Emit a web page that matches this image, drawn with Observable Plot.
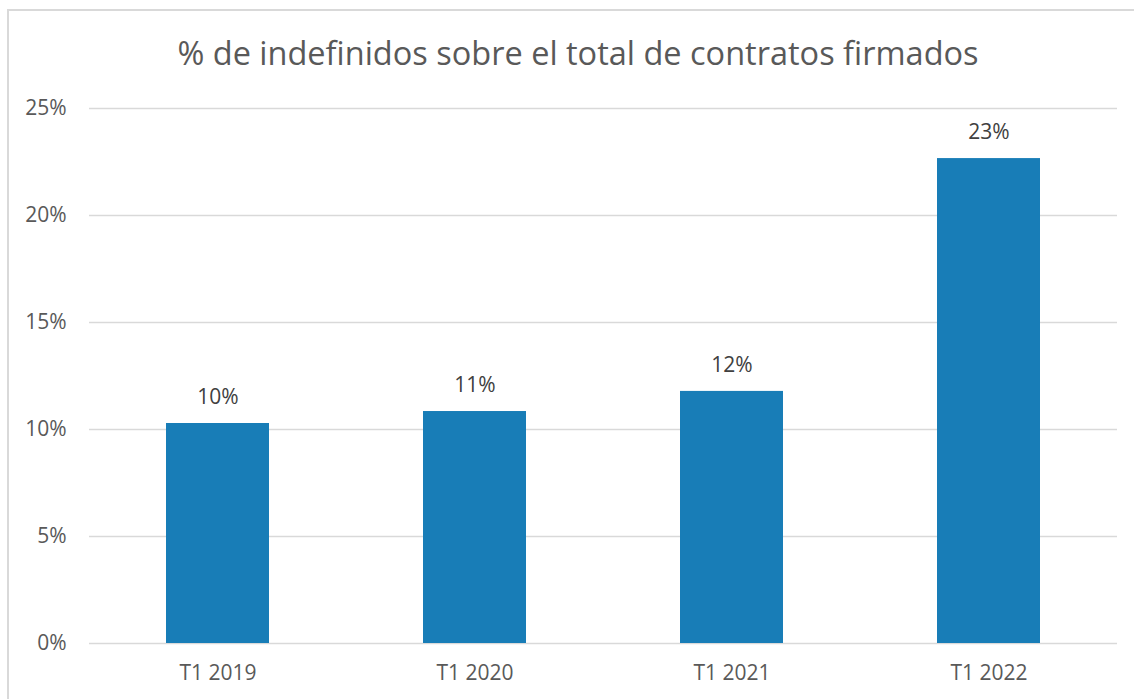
<!DOCTYPE html>
<html>
<head>
<meta charset="utf-8">
<script src="https://cdn.jsdelivr.net/npm/d3@7"></script>
<script src="https://cdn.jsdelivr.net/npm/@observablehq/plot@0.6"></script>
<style>
  html, body { margin: 0; padding: 0; background: #fff; width: 1134px; height: 699px; overflow: hidden; position: relative; font-family: "Open Sans", sans-serif; }
  #frame { position: absolute; left: 7px; top: 9px; width: 1140px; height: 720px; border: 2px solid #d9d9d9; box-sizing: border-box; }
  #title { position: absolute; left: 8px; width: 1140px; top: 31px; text-align: center; font-size: 32.5px; color: #595959; line-height: 44px; white-space: nowrap; }
  #chart { position: absolute; left: 0; top: 90px; }
</style>
</head>
<body>
<div id="frame"></div>
<div id="title">% de indefinidos sobre el total de contratos firmados</div>
<div id="chart"></div>
<script>
const categories = ["T1 2019", "T1 2020", "T1 2021", "T1 2022"];
const values = [10.28, 10.84, 11.78, 22.66];
const yTicks = [0, 5, 10, 15, 20, 25];

const data = categories.map((c, i) => ({category: c, value: values[i]}));

const plot = Plot.plot({
  width: 1134,
  height: 609,
  marginTop: 18,
  marginBottom: 56,
  marginLeft: 89,
  marginRight: 17,
  style: {fontFamily: "Open Sans, sans-serif", fontSize: "21px", color: "#595959", background: "transparent"},
  x: {domain: categories, paddingInner: 0.6, paddingOuter: 0.3, label: null},
  y: {domain: [0, 25], label: null},
  marks: [
    Plot.gridY(yTicks, {stroke: "#d9d9d9", strokeOpacity: 1, strokeWidth: 1.5}),
    Plot.barY(data, {x: "category", y: "value", fill: "#187DB7"}),
    Plot.text(data, {x: "category", y: "value", text: d => Math.round(d.value) + "%", dy: -26, fill: "#404040", fontSize: 21}),
    Plot.axisY(yTicks, {tickSize: 0, tickPadding: 23, tickFormat: d => d + "%", fill: "#595959", fontSize: 21, label: null}),
    Plot.axisX({tickSize: 0, tickPadding: 22, fill: "#595959", fontSize: 21, label: null})
  ]
});
document.getElementById("chart").appendChild(plot);
</script>
</body>
</html>
